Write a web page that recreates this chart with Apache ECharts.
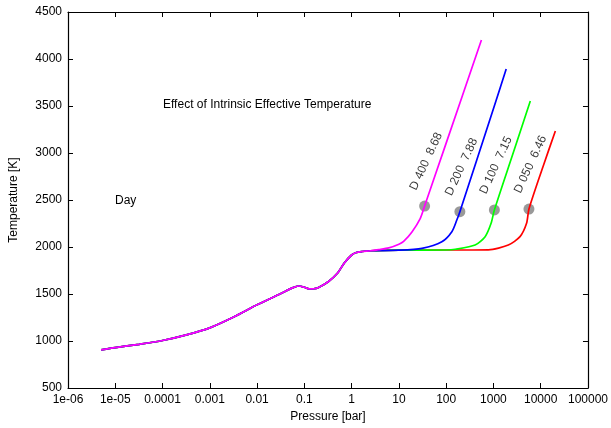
<!DOCTYPE html>
<html>
<head>
<meta charset="utf-8">
<script src="https://cdn.jsdelivr.net/npm/echarts@6/dist/echarts.min.js"></script>
<style>
  html, body { margin: 0; padding: 0; background: #fff; }
  #chart { width: 611px; height: 428px; }
</style>
</head>
<body>
<div id="chart"></div>
<script>
var chart = echarts.init(document.getElementById('chart'));

// common part of the profile (all four runs overlap here)
var sharedP = [5e-6, 1e-5, 3.2e-5, 1e-4, 3.2e-4, 1e-3, 3.2e-3, 0.01, 0.032, 0.056, 0.076, 0.1, 0.126, 0.158, 0.2, 0.32, 0.5, 0.7, 1, 1.26, 1.67, 2.5];
var sharedT = [905, 930, 965, 1005, 1065, 1140, 1255, 1385, 1505, 1565, 1585, 1572, 1555, 1556, 1570, 1630, 1720, 1830, 1915, 1942, 1952, 1960];

// deep parts, one per run
var p400 = [3.76, 6.1, 10, 12.6, 18.9, 28.4, 35, 100, 557];
var t400 = [1972, 1990, 2030, 2060, 2160, 2305, 2436, 3105, 4202];
var p200 = [10, 30.8, 81, 132, 168, 195, 1000, 1862];
var t200 = [1966, 1986, 2056, 2163, 2287, 2376, 3470, 3894];
var p100 = [10, 100, 156, 410, 667, 892, 1047, 2512, 6026];
var t100 = [1966, 1968, 1976, 2021, 2110, 2252, 2394, 2974, 3553];
var p050 = [10, 100, 783, 2065, 3648, 5023, 5640, 11220, 20420];
var t050 = [1966, 1968, 1970, 2021, 2110, 2252, 2404, 2857, 3234];

// marked points and their labels
var dotP = [35, 195, 1047, 5640];
var dotT = [2436, 2376, 2394, 2404];
var dotLabels = ['D 400  8.68', 'D 200  7.88', 'D 100  7.15', 'D 050  6.46'];

function build(tp, tt) {
    var out = [];
    for (var i = 0; i < sharedP.length; i++) out.push([sharedP[i], sharedT[i]]);
    for (var j = 0; j < tp.length; j++) out.push([tp[j], tt[j]]);
    return out;
}

function fmtP(v) {
    var e = Math.round(Math.log10(v));
    if (e <= -5) return '1e-0' + (-e);
    if (e < 0) return Math.pow(10, e).toFixed(-e);
    return String(Math.pow(10, e));
}

var font = 'Liberation Sans, Arial, Helvetica, sans-serif';
var tickStyle = { show: true, inside: true, length: 5, lineStyle: { color: '#000', width: 1 } };
var lineStyle = { show: true, lineStyle: { color: '#000', width: 1.2 } };

function lineSeries(name, color, data) {
    return {
        name: name, type: 'line', data: data, smooth: 0.25,
        showSymbol: false, symbol: 'none',
        lineStyle: { color: color, width: 1.7 },
        silent: true
    };
}

var dots = dotP.map(function (p, i) { return { value: [p, dotT[i]], name: dotLabels[i] }; });

option = {
    backgroundColor: '#fff',
    animation: false,
    grid: { left: 68, right: 21, top: 12, bottom: 40 },
    xAxis: [{
        type: 'log', logBase: 10, min: 1e-6, max: 1e5, interval: 1,
        name: 'Pressure [bar]', nameLocation: 'middle', nameGap: 21,
        nameTextStyle: { color: '#000', fontSize: 12, fontFamily: font },
        axisLine: lineStyle, axisTick: tickStyle, splitLine: { show: false },
        axisLabel: { color: '#000', fontSize: 12, fontFamily: font, margin: 6, formatter: fmtP, showMinLabel: true, showMaxLabel: true, interval: 0 }
    }, {
        type: 'log', logBase: 10, min: 1e-6, max: 1e5, interval: 1, position: 'top',
        axisLine: lineStyle, axisTick: tickStyle, splitLine: { show: false },
        axisLabel: { show: false }
    }],
    yAxis: [{
        type: 'value', min: 500, max: 4500, interval: 500,
        name: 'Temperature [K]', nameLocation: 'middle', nameGap: 48,
        nameTextStyle: { color: '#000', fontSize: 12, fontFamily: font },
        axisLine: lineStyle, axisTick: tickStyle, splitLine: { show: false },
        axisLabel: { color: '#000', fontSize: 12, fontFamily: font, margin: 6, formatter: function (v) { return String(v); } }
    }, {
        type: 'value', min: 500, max: 4500, interval: 500, position: 'right',
        axisLine: lineStyle, axisTick: tickStyle, splitLine: { show: false },
        axisLabel: { show: false }
    }],
    series: [
        lineSeries('D 050', '#ff0000', build(p050, t050)),
        lineSeries('D 100', '#00ff00', build(p100, t100)),
        lineSeries('D 200', '#0000ff', build(p200, t200)),
        lineSeries('D 400', '#ff00ff', build(p400, t400)),
        {
            type: 'scatter', data: dots, symbolSize: 11,
            itemStyle: { color: '#808080' },
            label: {
                show: true, formatter: '{b}', position: [-6, -11],
                rotate: 65, align: 'left', verticalAlign: 'middle',
                color: '#000', fontSize: 12, fontFamily: font
            },
            silent: true
        }
    ],
    graphic: [
        { type: 'text', left: 163, top: 99, style: { text: 'Effect of Intrinsic Effective Temperature', fill: '#000', font: '12px ' + font } },
        { type: 'text', left: 115, top: 195, style: { text: 'Day', fill: '#000', font: '12px ' + font } }
    ]
};

chart.setOption(option);
</script>
</body>
</html>
